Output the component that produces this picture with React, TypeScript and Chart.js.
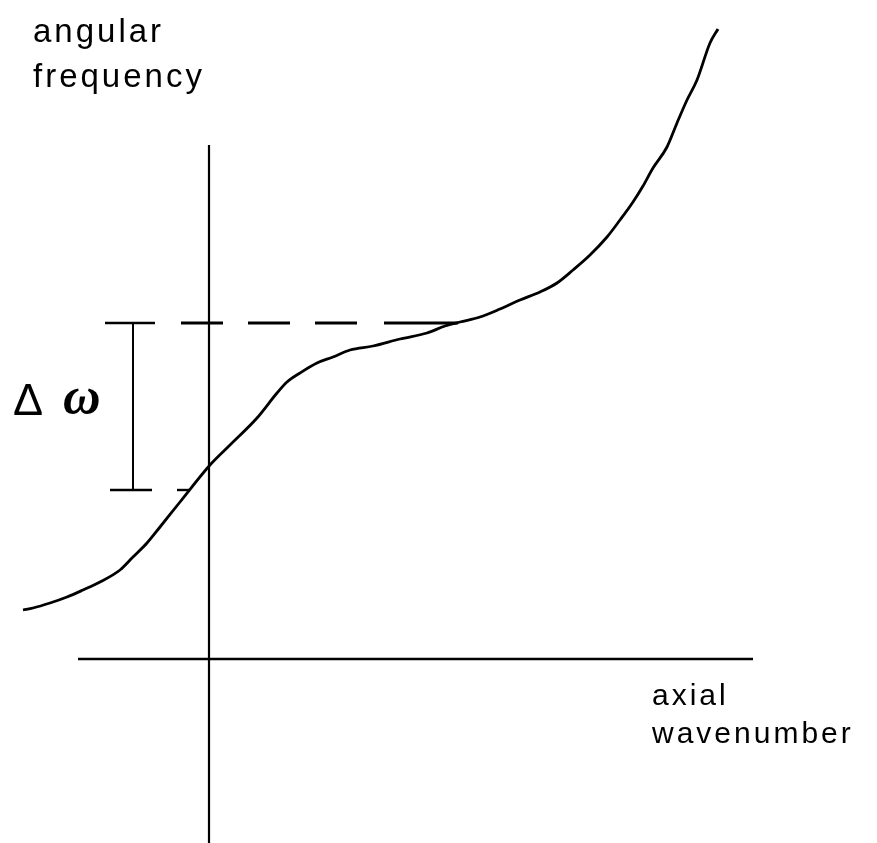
import React, { useEffect, useRef } from "react";
import { Chart, registerables } from "chart.js";

Chart.register(...registerables);

// Dispersion curve (axial wavenumber vs angular frequency), axis-relative units
const curveK = [
  -1.86, -1.76, -1.59, -1.42, -1.26, -1.09, -0.89, -0.76, -0.62, -0.49, -0.29,
  0.01, 0.21, 0.48, 0.68, 0.78, 0.91, 1.08, 1.24, 1.41, 1.64, 1.91, 2.18,
  2.36, 2.51, 2.71, 2.91, 3.11, 3.31, 3.48, 3.64, 3.81, 3.98, 4.11, 4.24, 4.34,
  4.44, 4.58, 4.68, 4.78, 4.88, 5.01, 5.09,
];
const curveW = [
  0.49, 0.51, 0.56, 0.62, 0.69, 0.77, 0.89, 1.02, 1.16, 1.32, 1.57, 1.94, 2.14,
  2.41, 2.66, 2.77, 2.86, 2.96, 3.02, 3.09, 3.13, 3.2, 3.26, 3.33, 3.37,
  3.42, 3.5, 3.59, 3.67, 3.76, 3.89, 4.04, 4.22, 4.39, 4.57, 4.73, 4.91, 5.12,
  5.36, 5.59, 5.79, 6.16, 6.3,
];

// Axis lines
const vAxisK = [0, 0];
const vAxisW = [5.14, -1.95];
const hAxisK = [-1.31, 5.44];
const hAxisW = [0, 0];

// Delta-omega band
const bandTop = 3.36;
const bandBottom = 1.69;
const dashK = [-0.28, 1.51];
const lastDashK = [1.75, 2.49];
const barK = -0.76;
const topCapK = [-1.04, -0.54];
const bottomCapK = [-0.99, -0.57];
const bottomTickK = [-0.32, -0.19];

// Text labels
const yLabelLines = ["angular", "frequency"];
const xLabelLines = ["axial", "wavenumber"];
const deltaText = "\u0394";
const omegaText = "\u03c9";

const pts = (xs: number[], ys: number[]) => xs.map((x, i) => ({ x, y: ys[i] }));

export default function App() {
  const ref = useRef<HTMLCanvasElement | null>(null);

  useEffect(() => {
    document.body.style.margin = "0";
    const canvas = ref.current;
    if (!canvas) return;

    const textPlugin = {
      id: "labels",
      afterDatasetsDraw(chart: any) {
        const { ctx, scales } = chart;
        const X = (v: number) => scales.x.getPixelForValue(v);
        const Y = (v: number) => scales.y.getPixelForValue(v);
        ctx.save();
        ctx.fillStyle = "#000";
        ctx.textAlign = "left";
        ctx.textBaseline = "alphabetic";
        (ctx as any).letterSpacing = "3px";
        ctx.font = '33px "Liberation Sans", Arial, sans-serif';
        ctx.fillText(yLabelLines[0], X(-1.76), Y(6.17));
        ctx.fillText(yLabelLines[1], X(-1.76), Y(5.72));
        ctx.font = '30px "Liberation Sans", Arial, sans-serif';
        ctx.fillText(xLabelLines[0], X(4.43), Y(-0.46));
        ctx.fillText(xLabelLines[1], X(4.43), Y(-0.84));
        (ctx as any).letterSpacing = "0px";
        ctx.font = '45px "Liberation Sans", Arial, sans-serif';
        ctx.fillText(deltaText, X(-1.96), Y(2.44));
        ctx.font = 'italic bold 52px "Liberation Serif", "Times New Roman", serif';
        ctx.fillText(omegaText, X(-1.46), Y(2.46));
        ctx.restore();
      },
    };

    const line = (data: any[], extra: any = {}) => ({
      data,
      showLine: true,
      borderColor: "#000",
      backgroundColor: "#000",
      borderWidth: 2,
      pointRadius: 0,
      fill: false,
      ...extra,
    });

    const chart = new Chart(canvas, {
      type: "scatter",
      data: {
        datasets: [
          line(pts(curveK, curveW), { borderWidth: 2.8, cubicInterpolationMode: "monotone" }),
          line(pts(vAxisK, vAxisW), { borderWidth: 2.2 }),
          line(pts(hAxisK, hAxisW), { borderWidth: 2.4 }),
          line(pts(dashK, [bandTop, bandTop]), { borderWidth: 2.8, borderDash: [42, 25] }),
          line(pts(lastDashK, [bandTop, bandTop]), { borderWidth: 2.8 }),
          line(pts([barK, barK], [bandTop, bandBottom]), { borderWidth: 2 }),
          line(pts(topCapK, [bandTop, bandTop]), { borderWidth: 2.6 }),
          line(pts(bottomCapK, [bandBottom, bandBottom]), { borderWidth: 2.4 }),
          line(pts(bottomTickK, [bandBottom, bandBottom]), { borderWidth: 2.4 }),
        ],
      },
      options: {
        responsive: false,
        animation: false,
        layout: { padding: 0 },
        plugins: { legend: { display: false }, tooltip: { enabled: false } },
        scales: {
          x: { type: "linear", min: -2.09, max: 6.68, display: false },
          y: { type: "linear", min: -1.84, max: 6.59, display: false },
        },
      },
      plugins: [textPlugin],
    });
    return () => chart.destroy();
  }, []);

  return <canvas ref={ref} width={877} height={843} style={{ display: "block" }} />;
}
